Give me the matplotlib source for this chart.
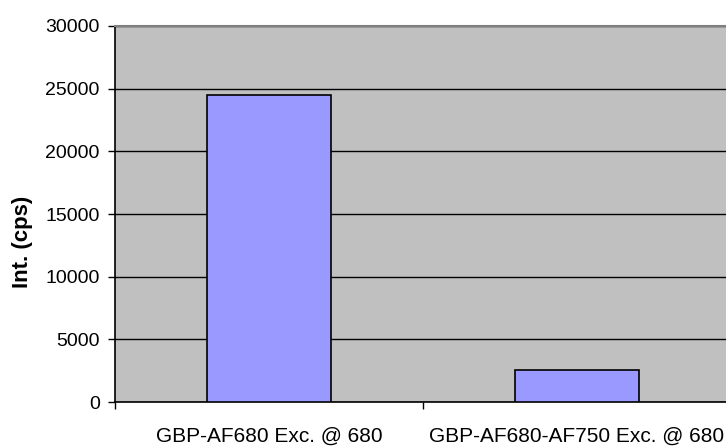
import matplotlib
matplotlib.use("Agg")
import matplotlib.pyplot as plt
import numpy as np

# ── Data ─────────────────────────────────────────────────────────────────────
categories = ["GBP-AF680 Exc. @ 680", "GBP-AF680-AF750 Exc. @ 680"]
intensity = [24500, 2550]
y_ticks = [0, 5000, 10000, 15000, 20000, 25000, 30000]

# ── Style ────────────────────────────────────────────────────────────────────
plt.rcParams.update({
    "font.family": ["Liberation Sans", "DejaVu Sans"],
    "font.size": 14,
})

fig = plt.figure(figsize=(7.26, 4.48), dpi=100)
ax = fig.add_axes([115 / 726, 46 / 448, 616 / 726, 376 / 448])
ax.set_facecolor("#C0C0C0")

x = np.arange(len(categories))
ax.bar(x, intensity, width=0.4, color="#9999FF", edgecolor="black",
       linewidth=1.2, zorder=3)

ax.set_xlim(-0.5, len(categories) - 0.5)
ax.set_ylim(0, 30000)
ax.set_yticks(y_ticks)
ax.yaxis.grid(True, color="black", linewidth=1.0, zorder=1)
ax.set_axisbelow(True)

# category labels centred, ticks on category boundaries
ax.set_xticks(x)
ax.set_xticklabels(categories, fontsize=15)
ax.tick_params(axis="x", length=0, pad=18)
ax.set_xticks(np.arange(len(categories) + 1) - 0.5, minor=True)
ax.tick_params(axis="x", which="minor", length=5, width=1, direction="out")
ax.tick_params(axis="y", length=5, width=1, direction="out", pad=6)

ax.set_ylabel("Int. (cps)", fontweight="bold", fontsize=16)
ax.yaxis.set_label_coords(-0.133, 0.425)

for side in ["left", "bottom"]:
    ax.spines[side].set_color("black")
    ax.spines[side].set_linewidth(1.2)
ax.spines["top"].set_color("#808080")
ax.spines["top"].set_linewidth(1.5)
ax.spines["right"].set_visible(False)

fig.savefig("out.png", dpi=100)
